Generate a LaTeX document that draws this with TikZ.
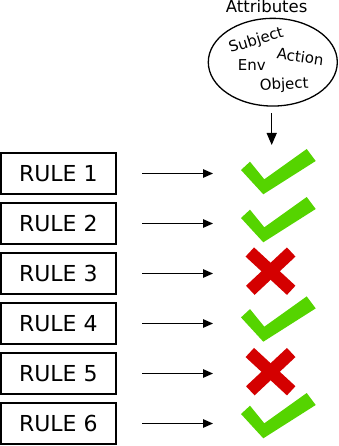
\documentclass[tikz,border=0pt]{standalone}
\usepackage{fontspec}
\setmainfont{DejaVu Sans}
\usetikzlibrary{arrows.meta,shapes.geometric}
\definecolor{okgreen}{HTML}{55D400}
\definecolor{nored}{HTML}{D40000}
\tikzset{
  rulebox/.style={draw,line width=2pt,minimum width=114.7pt,minimum height=41pt,inner sep=0pt,font=\fontsize{22}{26}\selectfont},
  flowarrow/.style={line width=1.3pt,-{Triangle[length=10pt,width=8.5pt]}},
  attrtext/.style={inner sep=0pt,font=\fontsize{15}{18}\selectfont},
  checkmark/.style={fill=okgreen},
  crossarm/.style={draw=nored,line width=12.5pt,line cap=butt}
}
\begin{document}
\begin{tikzpicture}[x=1pt,y=-1pt]
\useasboundingbox (0,0) rectangle (338,446);
% attributes
\node[anchor=base,inner sep=0pt,font=\fontsize{16.5}{20}\selectfont] (title) at (266.7,12.7) {Attributes};
\node[draw,ellipse,line width=1.3pt,minimum width=129pt,minimum height=87.7pt,inner sep=0pt] (attr) at (272.8,62.2) {};
\node[attrtext,rotate=17] (subj) at (256.3,40.8) {Subject};
\node[attrtext,rotate=-8] (act) at (300.3,56.7) {Action};
\node[attrtext] (env) at (251.7,65) {Env};
\node[attrtext,rotate=3] (obj) at (284.2,85) {Object};
\coordinate (dtop) at (271.7,113.3);
\coordinate (dend) at (271.7,145);
\draw[line width=1.3pt,-{Triangle[length=12pt,width=10pt]}] (dtop) -- (dend);
% rules
\foreach \i in {1,...,6}{
  \pgfmathsetmacro{\yc}{173.5+50*(\i-1)}
  \node[rulebox] (r\i) at (58.35,\yc) {RULE \i};
  \coordinate (a\i) at (142,\yc);
  \coordinate (b\i) at (213,\yc);
  \draw[flowarrow] (a\i) -- (b\i);
}
% check marks
\foreach \i/\dy in {1/0,2/-2,4/-2.6,6/-6}{
  \pgfmathsetmacro{\yc}{173.5+50*(\i-1)-173.5+\dy}
  \begin{scope}[yshift=-\yc pt]
    \fill[checkmark] (241,170) -- (250,161.7) -- (264.3,179.3) -- (306.7,149) -- (315.7,161) -- (263.3,194.3) -- cycle;
  \end{scope}
}
% crosses
\foreach \i/\dy in {3/-2.3,5/-1.8}{
  \pgfmathsetmacro{\yc}{173.5+50*(\i-1)+\dy}
  \draw[crossarm] (249.8,\yc-19.2) -- (291.2,\yc+19.1);
  \draw[crossarm] (291.2,\yc-19.2) -- (250.3,\yc+19.1);
}
\end{tikzpicture}
\end{document}
